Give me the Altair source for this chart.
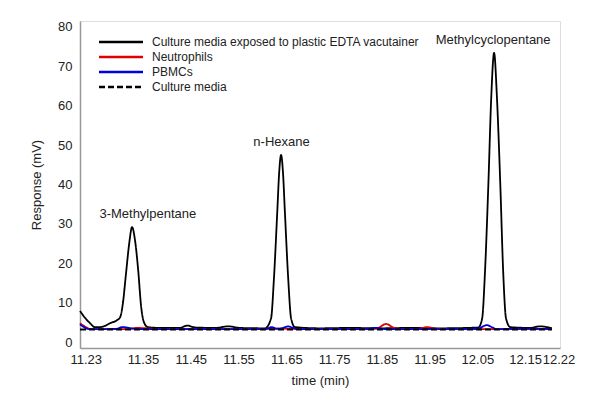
import altair as alt
import pandas as pd

series_names = [
    "Culture media exposed to plastic EDTA vacutainer",
    "Neutrophils",
    "PBMCs",
    "Culture media",
]
series_colors = ["#000000", "#e00000", "#0000dd", "#000000"]
series_dash = [[1, 0], [1, 0], [1, 0], [6, 3]]

# Culture media exposed to plastic EDTA vacutainer
t_exposed = [11.218, 11.229, 11.239, 11.249, 11.260, 11.270, 11.281, 11.296, 11.302, 11.308,
             11.314, 11.321, 11.327, 11.333, 11.340, 11.346, 11.352, 11.360, 11.386, 11.427,
             11.442, 11.459, 11.501, 11.528, 11.553, 11.605, 11.618, 11.624, 11.631, 11.635,
             11.639, 11.643, 11.647, 11.654, 11.660, 11.668, 11.721, 11.784, 11.846, 11.909,
             11.972, 12.052, 12.060, 12.066, 12.073, 12.079, 12.085, 12.091, 12.098, 12.104,
             12.110, 12.119, 12.160, 12.181, 12.206]
v_exposed = [7.9, 6.1, 4.8, 3.8, 3.8, 4.1, 4.8, 5.6, 6.3, 10.0,
             17.0, 25.0, 29.2, 26.0, 18.0, 9.0, 5.0, 3.8, 3.6, 3.6,
             4.2, 3.7, 3.6, 4.0, 3.6, 3.5, 6.0, 16.0, 33.0, 43.0,
             47.5, 43.0, 33.0, 16.0, 6.0, 3.8, 3.5, 3.6, 3.5, 3.6,
             3.5, 3.7, 6.0, 18.0, 40.0, 62.0, 73.4, 62.0, 40.0, 18.0,
             6.0, 3.8, 3.6, 4.0, 3.5]

# Neutrophils
t_neutro = [11.218, 11.229, 11.240, 11.290, 11.320, 11.335, 11.390, 11.490, 11.590, 11.640,
            11.690, 11.790, 11.838, 11.859, 11.878, 11.910, 11.932, 11.945, 11.962, 12.000,
            12.080, 12.150, 12.206]
v_neutro = [4.8, 3.9, 3.3, 3.3, 3.3, 3.6, 3.3, 3.3, 3.3, 3.4,
            3.3, 3.3, 3.4, 4.6, 3.5, 3.3, 3.5, 3.8, 3.4, 3.3,
            3.3, 3.3, 3.3]

# PBMCs
t_pbmc = [11.218, 11.229, 11.240, 11.280, 11.296, 11.306, 11.340, 11.440, 11.540, 11.605,
          11.620, 11.630, 11.640, 11.654, 11.662, 11.675, 11.750, 11.815, 11.838, 11.858,
          11.950, 12.050, 12.070, 12.080, 12.090, 12.150, 12.206]
v_pbmc = [4.5, 3.6, 3.3, 3.3, 3.4, 3.8, 3.3, 3.3, 3.3, 3.3,
          3.8, 3.4, 3.5, 4.0, 3.7, 3.3, 3.3, 3.3, 3.6, 3.3,
          3.3, 3.4, 4.3, 3.8, 3.3, 3.4, 3.3]

# Culture media
t_media = [11.218, 11.400, 11.600, 11.800, 12.000, 12.206]
v_media = [3.2, 3.2, 3.2, 3.2, 3.2, 3.2]

x_ticks = [11.23, 11.35, 11.45, 11.55, 11.65, 11.75, 11.85, 11.95, 12.05, 12.15, 12.22]
y_ticks = [0, 10, 20, 30, 40, 50, 60, 70, 80]

peak_names = ["3-Methylpentane", "n-Hexane", "Methylcyclopentane"]
label_times = [11.36, 11.640, 12.083]
peak_values = [29.2, 47.5, 73.4]

rows = []
for name, ts, vs in zip(series_names, [t_exposed, t_neutro, t_pbmc, t_media],
                        [v_exposed, v_neutro, v_pbmc, v_media]):
    for t, v in zip(ts, vs):
        rows.append({"series": name, "time": t, "value": v})
df = pd.DataFrame(rows)
df_peaks = pd.DataFrame({"name": peak_names, "time": label_times, "value": peak_values})

FONT = "Liberation Sans"

x_enc = alt.X("time:Q", scale=alt.Scale(domain=[11.218, 12.223], nice=False, zero=False),
              axis=alt.Axis(values=x_ticks, title="time (min)", format=".2f",
                            ticks=False, grid=False, domainColor="#999999", domainWidth=1.5,
                            labelFontSize=13, labelColor="#222222", labelPadding=5,
                            titleFontSize=13, titleFontWeight="normal", titleColor="#222222",
                            titlePadding=8, labelFlush=False, labelFont=FONT, titleFont=FONT))
y_enc = alt.Y("value:Q", scale=alt.Scale(domain=[-1.5, 81.5], nice=False, zero=False),
              axis=alt.Axis(values=y_ticks, title="Response (mV)",
                            ticks=False, grid=False, domainColor="#999999", domainWidth=1.5,
                            labelFontSize=13, labelColor="#222222", labelPadding=8,
                            titleFontSize=13, titleFontWeight="normal", titleColor="#222222",
                            titlePadding=14, labelFont=FONT, titleFont=FONT))

lines = alt.Chart(df).mark_line(strokeWidth=1.8, interpolate="monotone").encode(
    x=x_enc,
    y=y_enc,
    color=alt.Color("series:N", scale=alt.Scale(domain=series_names, range=series_colors),
                    legend=alt.Legend(title=None, orient="none", legendX=34, legendY=14,
                                      symbolType="M-4,0H4", symbolSize=121, symbolStrokeWidth=2.5,
                                      labelFontSize=12, labelFont=FONT, labelColor="#222222",
                                      labelLimit=400, rowPadding=2, padding=0, labelOffset=24)),
    strokeDash=alt.StrokeDash("series:N", scale=alt.Scale(domain=series_names, range=series_dash)),
    order=alt.Order("series:N"),
)

labels = alt.Chart(df_peaks).mark_text(fontSize=13, font=FONT, color="#222222", dy=-13,
                                        baseline="middle").encode(
    x=alt.X("time:Q"),
    y=alt.Y("value:Q"),
    text="name:N",
)

chart = alt.layer(lines, labels).properties(
    width=480, height=327,
    autosize=alt.AutoSizeParams(type="none"),
    padding={"left": 72, "top": 13, "right": 32, "bottom": 56},
).configure_view(stroke=None).configure(background="white")

chart.save("out.html", embed_options={"renderer": "svg", "actions": False})
